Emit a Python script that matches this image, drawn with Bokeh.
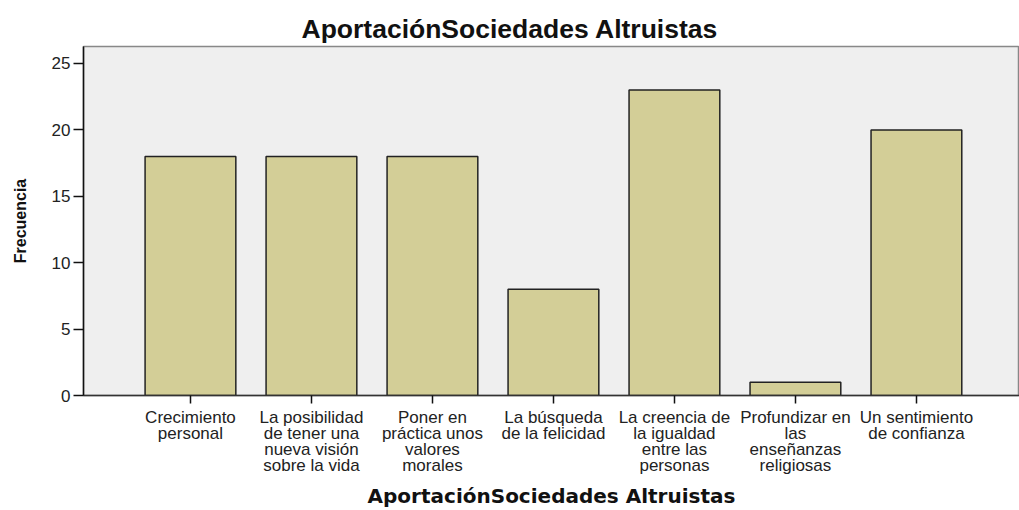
from bokeh.plotting import figure
from bokeh.models import Range1d, FixedTicker, ColumnDataSource, Title, LinearAxis
from bokeh.embed import file_html
from bokeh.resources import INLINE

categories = [
    "Crecimiento personal",
    "La posibilidad de tener una nueva visión sobre la vida",
    "Poner en práctica unos valores morales",
    "La búsqueda de la felicidad",
    "La creencia de la igualdad entre las personas",
    "Profundizar en las enseñanzas religiosas",
    "Un sentimiento de confianza",
]
tick_labels = [
    ["Crecimiento", "personal"],
    ["La posibilidad", "de tener una", "nueva visión", "sobre la vida"],
    ["Poner en", "práctica unos", "valores", "morales"],
    ["La búsqueda", "de la felicidad"],
    ["La creencia de", "la igualdad", "entre las", "personas"],
    ["Profundizar en", "las", "enseñanzas", "religiosas"],
    ["Un sentimiento", "de confianza"],
]
frecuencia = [18, 18, 18, 8, 23, 1, 20]
y_ticks = [0, 5, 10, 15, 20, 25]

pos = list(range(len(categories)))
source = ColumnDataSource(data=dict(x=pos, cat=categories, freq=frecuencia))

p = figure(
    width=1019, height=510,
    x_range=Range1d(-0.884, 6.852),
    y_range=Range1d(0, 26.28),
    output_backend="svg", toolbar_location=None,
    min_border_left=83, min_border_right=0, min_border_top=46, min_border_bottom=0,
)

p.vbar(x="x", top="freq", width=0.75, source=source,
       fill_color="#d3ce97", line_color="#222222", line_width=1.5)

p.background_fill_color = "#efefef"
p.border_fill_color = "white"
p.outline_line_color = "#888888"
p.outline_line_width = 1.5
p.xgrid.visible = False
p.ygrid.visible = False

t = Title(text="AportaciónSociedades Altruistas", align="left", offset=218,
          text_font="Liberation Sans", text_font_size="26.5px", text_font_style="bold",
          text_color="#111111", standoff=6)
p.add_layout(t, "above")

yax = p.yaxis[0]
yax.ticker = FixedTicker(ticks=y_ticks)
yax.axis_label = "Frecuencia"
yax.axis_label_text_font = "Liberation Sans"
yax.axis_label_text_font_size = "16px"
yax.axis_label_text_font_style = "bold"
yax.axis_label_text_color = "#111111"
yax.axis_label_standoff = 20
yax.major_label_text_font = "Liberation Sans"
yax.major_label_text_font_size = "17px"
yax.major_label_text_color = "#222222"
yax.major_label_standoff = 3
yax.major_tick_out = 10
yax.major_tick_in = 0
yax.minor_tick_line_color = None
yax.axis_line_color = "#111111"
yax.axis_line_width = 1.5
yax.major_tick_line_color = "#111111"
yax.major_tick_line_width = 1.5

def style_labels(ax, i):
    ax.ticker = FixedTicker(ticks=pos)
    ax.minor_tick_line_color = None
    ax.major_label_overrides = {k: (l[i] if i < len(l) else " ") for k, l in zip(pos, tick_labels)}
    ax.major_label_text_font = "Liberation Sans"
    ax.major_label_text_font_size = "17px"
    ax.major_label_text_color = "#222222"
    ax.major_label_orientation = "horizontal"

xax = p.xaxis[0]
style_labels(xax, 0)
xax.major_label_standoff = 4
xax.major_tick_out = 8
xax.major_tick_in = 0
xax.axis_line_color = "#333333"
xax.axis_line_width = 1.5
xax.major_tick_line_color = "#111111"
xax.major_tick_line_width = 1.5

extra = []
for i in range(1, 4):
    ax = LinearAxis()
    style_labels(ax, i)
    ax.major_label_standoff = -6
    ax.major_tick_line_color = None
    ax.major_tick_out = 0
    ax.major_tick_in = 0
    ax.axis_line_color = None
    p.add_layout(ax, "below")
    extra.append(ax)

last = extra[-1]
last.axis_label = "AportaciónSociedades Altruistas"
last.axis_label_text_font = "DejaVu Sans"
last.axis_label_text_font_size = "20px"
last.axis_label_text_font_style = "bold"
last.axis_label_text_color = "#111111"
last.axis_label_text_line_height = 0.8
last.axis_label_standoff = 6

open("out.html", "w").write(file_html(p, INLINE))
